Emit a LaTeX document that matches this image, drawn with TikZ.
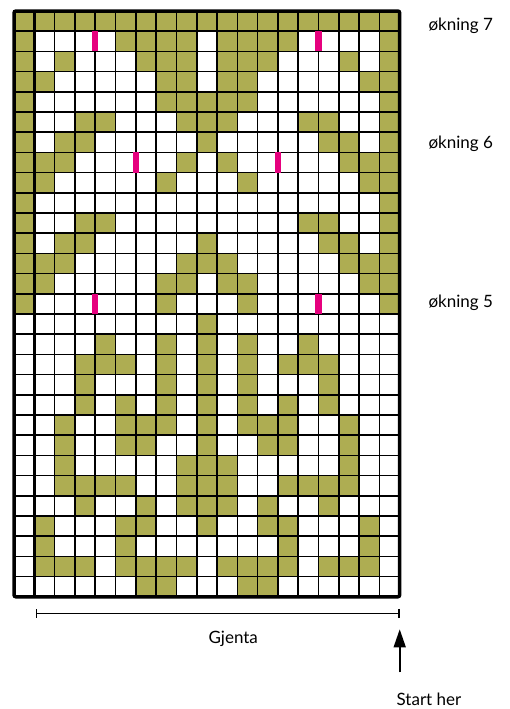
\documentclass[tikz,border=0pt]{standalone}
\usepackage{fontspec}
\setmainfont{Lato}
\usetikzlibrary{arrows.meta}
\definecolor{oliven}{RGB}{174,173,82}
\definecolor{rosa}{RGB}{230,0,126}

\begin{document}
\begin{tikzpicture}[x=20.3bp, y=-20.2bp,
                    cella/.style={fill=oliven},
                    linea/.style={line width=1.6bp, black},
                    bordo/.style={line width=3.5bp, black},
                    segno/.style={fill=rosa},
                    testo/.style={font=\fontsize{17bp}{20bp}\selectfont, inner sep=0pt}]

  \useasboundingbox (-0.6897,-0.5446) rectangle (24.433,34.554);

  % Celle verdi (simmetriche attorno alla colonna 9)
  \foreach \r/\cc in {0/{0,...,9}, 1/{0,5,6,7,8}, 2/{0,2,6,7,8}, 3/{0,1,7,8},
                      4/{0,7,8,9}, 5/{0,3,4,8,9}, 6/{0,2,3,9}, 7/{0,1,2,8},
                      8/{0,1,7}, 9/{0}, 10/{0,3,4}, 11/{0,2,3,9},
                      12/{0,1,2,8,9}, 13/{0,1,7,8}, 14/{0,7}, 15/{9},
                      16/{4,7,9}, 17/{3,4,5,7,9}, 18/{3,7,9}, 19/{3,5,7,9},
                      20/{2,5,6,7,9}, 21/{2,5,6,9}, 22/{2,8,9},
                      23/{2,3,4,5,8,9}, 24/{3,6,8,9}, 25/{1,5,6,9},
                      26/{1,5}, 27/{1,2,3,5,6,7,8}, 28/{6,7}}
    \foreach \c in \cc {
      \fill[cella] (\c,\r) rectangle ++(1,1);
      \fill[cella] (18-\c,\r) rectangle ++(1,1);
    }

  % Griglia
  \foreach \c in {1,...,18} \draw[linea] (\c,0) -- (\c,29);
  \foreach \r in {1,...,28} \draw[linea] (0,\r) -- (19,\r);
  \draw[bordo] (1,0) -- (1,29); % colonna extra
  \draw[bordo, rounded corners=2bp] (0,0) rectangle (19,29);

  % Aumenti
  \foreach \r/\xb in {1/4, 1/15, 7/6, 7/13, 14/4, 14/15}
    \fill[segno] (\xb-0.15,\r) rectangle (\xb+0.15,\r+1);

  \node[testo, anchor=base west] (ok7) at (20.41, 0.99) {økning 7};
  \node[testo, anchor=base west] (ok6) at (20.41, 6.83) {økning 6};
  \node[testo, anchor=base west] (ok5) at (20.41, 14.70) {økning 5};

  % Ripetizione
  \coordinate (rep a) at (1.08, 29.82);
  \coordinate (rep b) at (19, 29.82);
  \draw[line width=1.3bp, {Bar[width=9bp]}-{Bar[width=9bp]}] (rep a) -- (rep b);
  \node[testo, anchor=base] (gjenta) at (10.80, 31.30) {Gjenta};

  % Inizio
  \coordinate (pil hale) at (19, 32.74);
  \coordinate (pil tip) at (19, 30.61);
  \draw[line width=1.6bp, -{Triangle[width=12bp,length=18bp]}] (pil hale) -- (pil tip);
  \node[testo, anchor=base] (start) at (20.44, 34.36) {Start her};

\end{tikzpicture}
\end{document}
